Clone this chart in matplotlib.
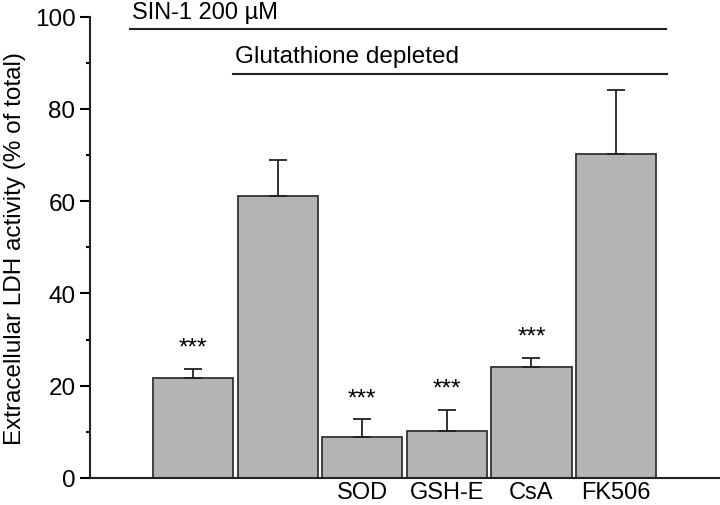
import numpy as np
import matplotlib.pyplot as plt

# ============================================================
# DATA
# ============================================================
positions = [1, 2, 3, 4, 5, 6]
tick_labels = ["", "", "SOD", "GSH-E", "CsA", "FK506"]
means = [21.6, 61.0, 8.8, 10.2, 24.0, 70.1]
errors = [2.0, 8.0, 3.9, 4.5, 2.0, 14.0]
stars = ["***", "", "***", "***", "***", ""]

plt.rcParams['font.family'] = ['Liberation Sans', 'DejaVu Sans']
FS = 17.5

fig = plt.figure(figsize=(7.2, 5.06), dpi=100)
ax = fig.add_axes([0.125, 0.0534, 0.875, 0.912])

ax.bar(positions, means, width=0.95, color="#b4b4b4", edgecolor="#333333",
       linewidth=1.3, zorder=2)
ax.errorbar(positions, means, yerr=[[0] * 6, errors], fmt="none",
            ecolor="#222222", elinewidth=1.3, capsize=6.5, capthick=1.3, zorder=3)

for x, m, e, s in zip(positions, means, errors, stars):
    if s:
        ax.text(x, m + e + 4.6, s, ha="center", va="center", fontsize=FS)

# treatment bars above the plot
ax.plot([0.25, 6.59], [97.4, 97.4], color="#222222", lw=1.5, clip_on=False)
ax.text(0.28, 99.6, "SIN-1 200 µM", ha="left", va="baseline", fontsize=17,
        clip_on=False)
ax.plot([1.47, 6.6], [87.5, 87.5], color="#222222", lw=1.5, clip_on=False)
ax.text(1.5, 90.1, "Glutathione depleted", ha="left", va="baseline", fontsize=FS)

ax.set_xlim(-0.22, 7.23)
ax.set_ylim(0, 100)
ax.set_yticks([0, 20, 40, 60, 80, 100])
ax.set_yticks([10, 30, 50, 70, 90], minor=True)
ax.set_xticks(positions)
ax.set_xticklabels(tick_labels, fontsize=17)
ax.tick_params(axis="x", length=0, pad=2)
ax.tick_params(axis="y", which="major", length=7, width=1.5, labelsize=FS, direction="out")
ax.tick_params(axis="y", which="minor", length=3, width=1.5, direction="out")
ax.set_ylabel("Extracellular LDH activity (% of total)", fontsize=FS, labelpad=6)

for side in ["top", "right"]:
    ax.spines[side].set_visible(False)
for side in ["left", "bottom"]:
    ax.spines[side].set_linewidth(1.5)
    ax.spines[side].set_color("#222222")

fig.savefig("out.png", dpi=100)
